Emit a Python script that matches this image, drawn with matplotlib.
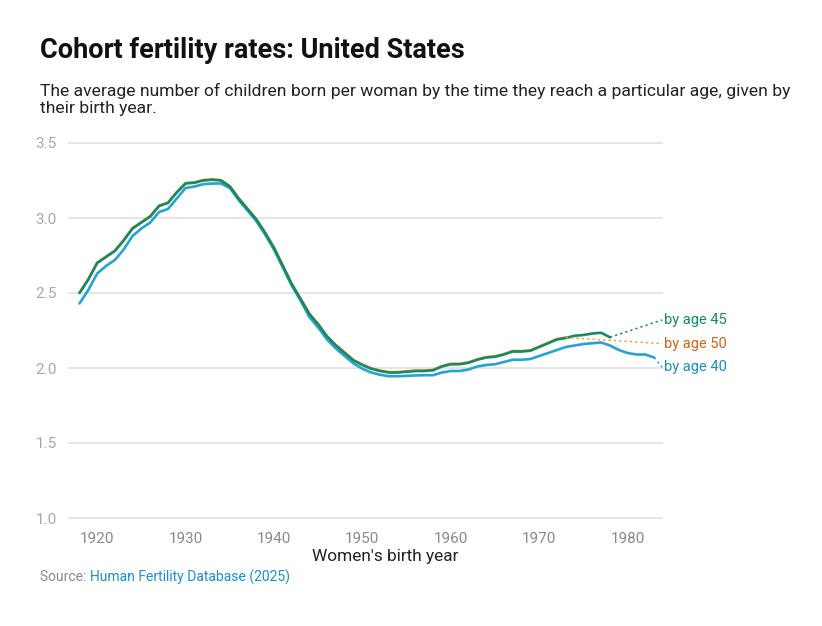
import matplotlib
matplotlib.use("Agg")
import matplotlib.pyplot as plt

plt.rcParams["font.family"] = ["Roboto", "DejaVu Sans"]

# --- data ---
years_40 = list(range(1918, 1984))
age_40 = [2.43, 2.52, 2.63, 2.68, 2.72, 2.79, 2.88, 2.93, 2.97, 3.04,
          3.06, 3.13, 3.20, 3.21, 3.225, 3.23, 3.23, 3.20, 3.12, 3.05,
          2.98, 2.89, 2.79, 2.67, 2.55, 2.45, 2.34, 2.27, 2.19, 2.13,
          2.08, 2.03, 1.995, 1.97, 1.955, 1.945, 1.945, 1.948, 1.95, 1.952,
          1.952, 1.97, 1.98, 1.98, 1.99, 2.01, 2.02, 2.025, 2.04, 2.055,
          2.055, 2.06, 2.08, 2.10, 2.12, 2.14, 2.15, 2.16, 2.165, 2.17,
          2.15, 2.12, 2.10, 2.09, 2.09, 2.07]

years_45 = list(range(1918, 1979))
age_45 = [2.50, 2.59, 2.70, 2.74, 2.78, 2.85, 2.93, 2.97, 3.01, 3.08,
          3.10, 3.17, 3.23, 3.235, 3.25, 3.255, 3.25, 3.21, 3.13, 3.06,
          2.99, 2.90, 2.80, 2.68, 2.56, 2.46, 2.36, 2.29, 2.21, 2.15,
          2.10, 2.05, 2.02, 1.995, 1.98, 1.97, 1.97, 1.975, 1.98, 1.98,
          1.985, 2.01, 2.025, 2.025, 2.035, 2.055, 2.07, 2.075, 2.09, 2.11,
          2.11, 2.115, 2.14, 2.165, 2.19, 2.20, 2.215, 2.22, 2.23, 2.235,
          2.205]

years_50 = list(range(1918, 1974))
age_50 = [2.503, 2.593, 2.703, 2.743, 2.783, 2.853, 2.933, 2.973, 3.013, 3.083,
          3.103, 3.173, 3.233, 3.238, 3.253, 3.258, 3.253, 3.213, 3.133, 3.063,
          2.993, 2.903, 2.803, 2.683, 2.563, 2.463, 2.363, 2.293, 2.213, 2.153,
          2.103, 2.053, 2.023, 1.998, 1.983, 1.973, 1.973, 1.978, 1.983, 1.983,
          1.988, 2.013, 2.028, 2.028, 2.038, 2.058, 2.073, 2.078, 2.093, 2.113,
          2.113, 2.118, 2.143, 2.168, 2.193, 2.203]

labels = ["by age 45", "by age 50", "by age 40"]
label_y = [2.32, 2.163, 2.005]

c40 = "#28a2d4"
c45 = "#16896a"
c50 = "#f5a01e"
text_c = {"by age 45": "#16896a", "by age 50": "#c8661a", "by age 40": "#1a8fbd"}

# --- plot ---
fig = plt.figure(figsize=(8.22, 6.26), dpi=100)
ax = fig.add_axes([68 / 822, 1 - 521 / 626, 595 / 822, 381 / 626])

ax.plot(years_50, age_50, color=c50, lw=1.9, solid_capstyle="round")
ax.plot(years_40, age_40, color=c40, lw=1.9, solid_capstyle="round")
ax.plot(years_45, age_45, color=c45, lw=1.9, solid_capstyle="round")

# dotted connectors to the end labels
lx = 1983.9
ax.plot([years_45[-1], lx], [age_45[-1], label_y[0]], color=c45, lw=1.1, ls=(0, (1.5, 2)), clip_on=False)
ax.plot([years_50[-1], lx], [age_50[-1], label_y[1]], color=c50, lw=1.1, ls=(0, (1.5, 2)), clip_on=False)
ax.plot([years_40[-1], lx], [age_40[-1], label_y[2]], color=c40, lw=1.1, ls=(0, (1.5, 2)), clip_on=False)

for lab, yv in zip(labels, label_y):
    ax.text(lx + 0.25, yv, lab, color=text_c[lab], fontsize=10.5,
            ha="left", va="center", clip_on=False)

ax.set_xlim(1916.7, 1984)
ax.set_ylim(0.98, 3.52)
ax.set_yticks([1.0, 1.5, 2.0, 2.5, 3.0, 3.5])
ax.set_yticklabels(["1.0", "1.5", "2.0", "2.5", "3.0", "3.5"])
ax.set_xticks([1920, 1930, 1940, 1950, 1960, 1970, 1980])
ax.grid(axis="y", color="#e3e3e3", lw=1.3)
ax.set_axisbelow(True)
for s in ax.spines.values():
    s.set_visible(False)
ax.tick_params(axis="y", length=0, pad=8, labelsize=11, labelcolor="#a8a8a8")
ax.tick_params(axis="x", length=0, pad=8, labelsize=11, labelcolor="#8a8a8a")

fig.text(40 / 822, 1 - 37 / 626, "Cohort fertility rates: United States",
         fontsize=19.5, fontweight="bold", color="#111111", va="top")
fig.text(40 / 822, 1 - 83 / 626,
         "The average number of children born per woman by the time they reach a particular age, given by\ntheir birth year.",
         fontsize=12.6, color="#222222", va="top", linespacing=1.15)
fig.text(385 / 822, 1 - 557 / 626, "Women's birth year", fontsize=12.4,
         color="#222222", ha="center", va="center")

src = fig.text(40 / 822, 1 - 577 / 626, "Source: ", fontsize=10,
               color="#8a8a8a", va="center")
ax.annotate("Human Fertility Database (2025)", xy=(1, 0.5), xycoords=src,
            fontsize=10, color="#1a8fd0", va="center", ha="left")

fig.savefig("out.png", dpi=100)
